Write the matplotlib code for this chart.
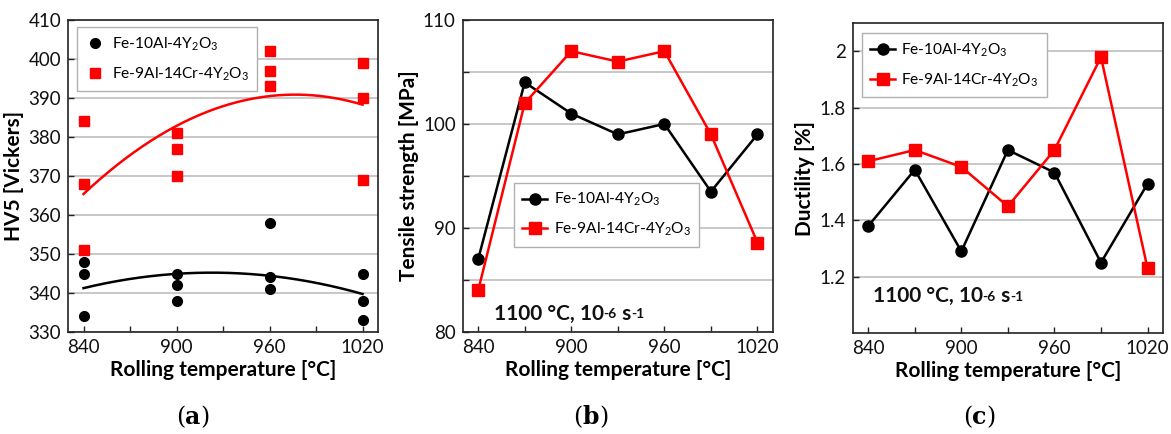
import numpy as np
import matplotlib
matplotlib.use("Agg")
import matplotlib.pyplot as plt

plt.rcParams['font.family'] = ['Lato', 'DejaVu Sans']
plt.rcParams['mathtext.fontset'] = 'custom'
plt.rcParams['mathtext.rm'] = 'Lato'
plt.rcParams['mathtext.it'] = 'Lato'
plt.rcParams['mathtext.bf'] = 'Lato:bold'
plt.rcParams['mathtext.default'] = 'regular'

# ---------------- data ----------------
label_fe10 = r"Fe-10Al-4Y$_2$O$_3$"
label_fe9 = r"Fe-9Al-14Cr-4Y$_2$O$_3$"

# (a) hardness, three measurements per rolling temperature
hv_temps = [840, 840, 840, 900, 900, 900, 960, 960, 960, 1020, 1020, 1020]
hv_fe10 = [348, 345, 334, 345, 342, 338, 358, 344, 341, 345, 338, 333]
hv_fe9 = [384, 368, 351, 381, 377, 370, 402, 397, 393, 399, 390, 369]

# (b) tensile strength and (c) ductility
rt_temps = [840, 870, 900, 930, 960, 990, 1020]
uts_fe10 = [87, 104, 101, 99, 100, 93.5, 99]
uts_fe9 = [84, 102, 107, 106, 107, 99, 88.6]
duct_fe10 = [1.38, 1.58, 1.29, 1.65, 1.57, 1.25, 1.53]
duct_fe9 = [1.61, 1.65, 1.59, 1.45, 1.65, 1.98, 1.23]

xticks_major = [840, 900, 960, 1020]
xticks_all = [840, 870, 900, 930, 960, 990, 1020]

RED = '#ff0000'
GRID = '#c4c4c4'
TICK_FS = 13.5
LABEL_FS = 15
LEG_FS = 11.2

fig = plt.figure(figsize=(11.71, 4.34), dpi=100)

axes_pos = [
    [0.0581, 0.235, 0.2647, 0.719],
    [0.3951, 0.235, 0.2650, 0.719],
    [0.7282, 0.2327, 0.2650, 0.7136],
]
axa = fig.add_axes(axes_pos[0])
axb = fig.add_axes(axes_pos[1])
axc = fig.add_axes(axes_pos[2])


def style_axis(ax, ylim, yticks_grid, yticks_lab, ylab_fmt):
    ax.set_xlim(830, 1030)
    ax.set_ylim(*ylim)
    ax.set_xticks(xticks_all)
    ax.set_xticklabels([str(t) if t in xticks_major else '' for t in xticks_all])
    ax.set_yticks(yticks_grid)
    ax.set_yticklabels([ylab_fmt(t) if t in yticks_lab else '' for t in yticks_grid])
    ax.tick_params(direction='in', length=4.5, width=1.0, colors='#222222',
                   labelsize=TICK_FS, labelcolor='#111111', pad=5)
    ax.tick_params(axis='x', top=False)
    for s in ax.spines.values():
        s.set_color('#222222')
        s.set_linewidth(1.2)
    ax.yaxis.grid(True, color=GRID, linewidth=1.3)
    ax.set_axisbelow(True)
    ax.set_xlabel('Rolling temperature [°C]', fontsize=LABEL_FS, fontweight='bold',
                  labelpad=3)


def make_legend(ax, anchor, handlelength, handletextpad):
    leg = ax.legend(loc='upper left', bbox_to_anchor=anchor, borderaxespad=0,
                    fontsize=LEG_FS, frameon=True, fancybox=False,
                    edgecolor='#b0b0b0', framealpha=1.0,
                    handlelength=handlelength, handletextpad=handletextpad,
                    labelspacing=0.8, borderpad=0.55)
    leg.get_frame().set_linewidth(1.0)
    return leg


# ---------------- (a) ----------------
style_axis(axa, (330, 410), list(range(330, 411, 10)), list(range(330, 411, 10)),
           lambda t: f"{t:d}")
axa.plot(hv_temps, hv_fe10, linestyle='none', marker='o', color='black',
         markersize=7, label=label_fe10, zorder=3)
axa.plot(hv_temps, hv_fe9, linestyle='none', marker='s', color=RED,
         markersize=7, label=label_fe9, zorder=3)
xf = np.linspace(840, 1020, 200)
c10 = np.polyfit(hv_temps, hv_fe10, 2)
c9 = np.polyfit(hv_temps, hv_fe9, 2)
axa.plot(xf, np.polyval(c10, xf), color='black', linewidth=1.8, zorder=2)
axa.plot(xf, np.polyval(c9, xf), color=RED, linewidth=1.8, zorder=2)
axa.set_ylabel('HV5 [Vickers]', fontsize=LABEL_FS, fontweight='bold', labelpad=3)
make_legend(axa, (0.028, 0.978), 1.2, 0.5)

# ---------------- (b) ----------------
style_axis(axb, (80, 110), list(range(80, 111, 5)), [80, 90, 100, 110],
           lambda t: f"{t:d}")
axb.plot(rt_temps, uts_fe10, marker='o', color='black', linewidth=1.8,
         markersize=8, label=label_fe10, zorder=3)
axb.plot(rt_temps, uts_fe9, marker='s', color=RED, linewidth=1.8,
         markersize=8, label=label_fe9, zorder=3)
axb.set_ylabel('Tensile strength [MPa]', fontsize=LABEL_FS, fontweight='bold', labelpad=3)
make_legend(axb, (0.165, 0.479), 1.6, 0.4)

# ---------------- (c) ----------------
dgrid = [1.2, 1.4, 1.6, 1.8, 2.0]
style_axis(axc, (1.0, 2.1), dgrid, dgrid,
           lambda t: '2' if abs(t - 2.0) < 1e-9 else f"{t:.1f}")
axc.plot(rt_temps, duct_fe10, marker='o', color='black', linewidth=1.8,
         markersize=8, label=label_fe10, zorder=3)
axc.plot(rt_temps, duct_fe9, marker='s', color=RED, linewidth=1.8,
         markersize=8, label=label_fe9, zorder=3)
axc.set_ylabel('Ductility [%]', fontsize=LABEL_FS, fontweight='bold', labelpad=3)
make_legend(axc, (0.029, 0.969), 1.6, 0.4)


# condition annotation with small raised exponents
def condition_text(ax, x, y):
    t1 = ax.text(x, y, '1100 °C, 10', transform=ax.transAxes, fontsize=15,
                 fontweight='bold', va='baseline', ha='left', color='#111111')
    t2 = ax.annotate('-6', xy=(1, 0), xycoords=t1, xytext=(0, 2.5),
                     textcoords='offset points', fontsize=10, fontweight='bold',
                     va='bottom', ha='left', color='#111111')
    t3 = ax.annotate(' s', xy=(1, 0), xycoords=t2, xytext=(0, -2.5),
                     textcoords='offset points', fontsize=15, fontweight='bold',
                     va='bottom', ha='left', color='#111111')
    ax.annotate('-1', xy=(1, 0), xycoords=t3, xytext=(0, 2.5),
                textcoords='offset points', fontsize=10, fontweight='bold',
                va='bottom', ha='left', color='#111111')


condition_text(axb, 0.10, 0.04)
condition_text(axc, 0.064, 0.10)

# captions (a), (b), (c)
CAP_FS = 17
fig.canvas.draw()
for xc_px, letter in [(190, 'a'), (587, 'b'), (977, 'c')]:
    xc = xc_px / 1171
    t1 = fig.text(xc - 0.004, 0.012, '(', fontsize=CAP_FS, family='DejaVu Serif',
                  ha='right', va='bottom')
    t2 = fig.text(xc - 0.004, 0.012, letter, fontsize=CAP_FS, family='DejaVu Serif',
                  fontweight='bold', ha='left', va='bottom')
    fig.canvas.draw()
    bb = t2.get_window_extent()
    fig.text(bb.x1 / fig.bbox.width, 0.012, ')', fontsize=CAP_FS,
             family='DejaVu Serif', ha='left', va='bottom')

fig.savefig('out.png', dpi=100)
